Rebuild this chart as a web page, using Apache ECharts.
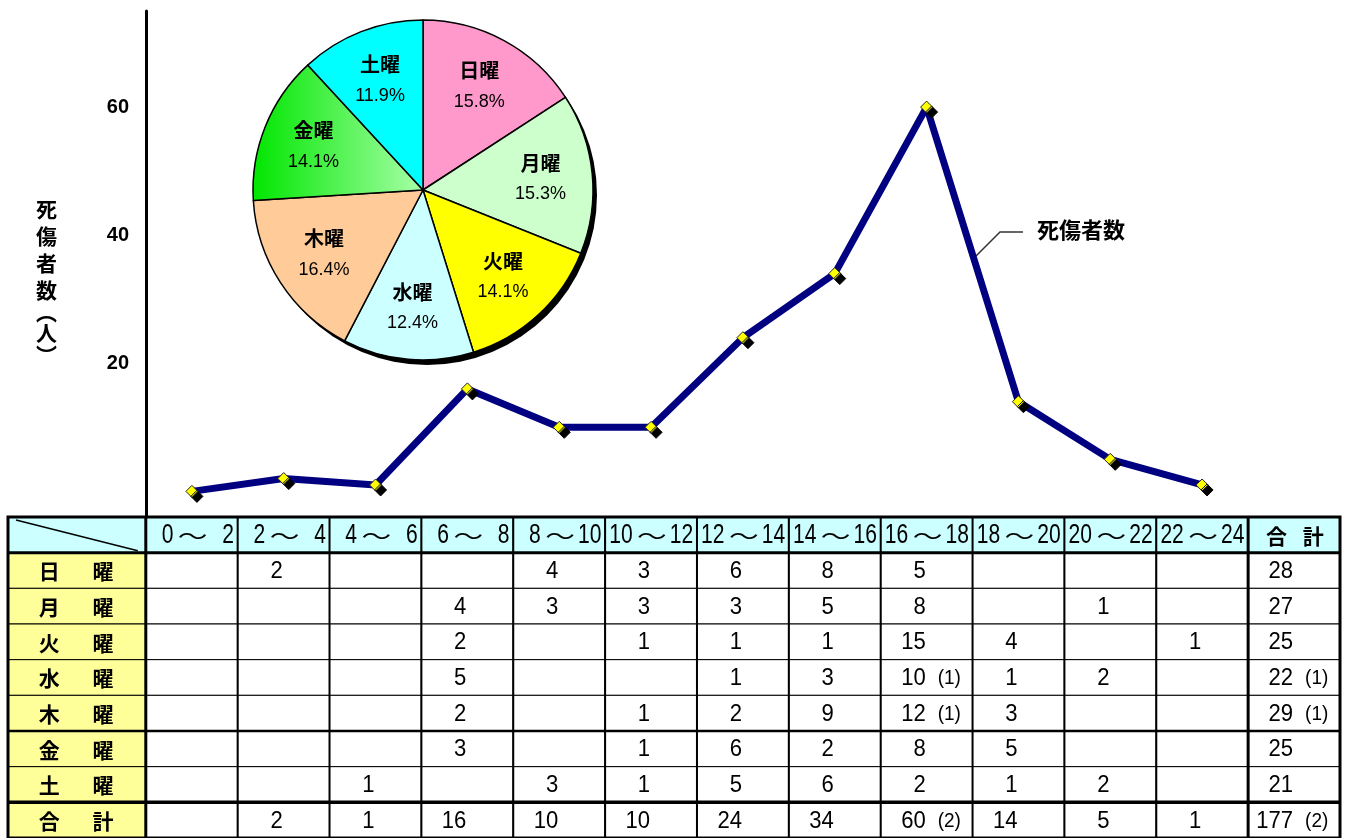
<!DOCTYPE html>
<html>
<head>
<meta charset="utf-8">
<script src="https://cdn.jsdelivr.net/npm/echarts@6/dist/echarts.min.js"></script>
<style>
html,body{margin:0;padding:0;background:#fff;}
#chart{width:1348px;height:838px;}
</style>
</head>
<body>
<div id="chart"></div>
<script>
// ---------------- DATA ----------------
const slotLabels = ['0～2','2～4','4～6','6～8','8～10','10～12','12～14','14～16','16～18','18～20','20～22','22～24'];
const dayNames   = ['日曜','月曜','火曜','水曜','木曜','金曜','土曜'];
const totalLabel = '合計';
// casualties by day (rows) and 2-hour slot (columns); null = blank cell
const sunCounts = [null, 2, null, null, 4, 3, 6, 8, 5, null, null, null];
const monCounts = [null, null, null, 4, 3, 3, 3, 5, 8, null, 1, null];
const tueCounts = [null, null, null, 2, null, 1, 1, 1, 15, 4, null, 1];
const wedCounts = [null, null, null, 5, null, null, 1, 3, 10, 1, 2, null];
const thuCounts = [null, null, null, 2, null, 1, 2, 9, 12, 3, null, null];
const friCounts = [null, null, null, 3, null, 1, 6, 2, 8, 5, null, null];
const satCounts = [null, null, 1, null, 3, 1, 5, 6, 2, 1, 2, null];
// fatalities shown in parentheses
const wedFatal  = [null, null, null, null, null, null, null, null, 1, null, null, null];
const thuFatal  = [null, null, null, null, null, null, null, null, 1, null, null, null];
const yTickValues = [20, 40, 60];
const seriesName = '死傷者数';
const yAxisName  = '死傷者数(人)';

// ---------------- STYLES ----------------
const dayColors = ['#FF99CC', '#CCFFCC', '#FFFF00', '#CCFFFF', '#FFCC99', null, '#00FFFF'];
const FONT_CJK = '"Noto Sans CJK JP", sans-serif';
const FONT_NUM = '"Liberation Sans", "Noto Sans CJK JP", sans-serif';

// ---------------- DERIVED ----------------
const dayRows   = [sunCounts, monCounts, tueCounts, wedCounts, thuCounts, friCounts, satCounts];
const fatalRows = [null, null, null, wedFatal, thuFatal, null, null];
const NCOL = slotLabels.length;
const sum = a => a.reduce((s, v) => s + (v || 0), 0);
const slotTotals = slotLabels.map((_, i) => sum(dayRows.map(r => r[i])));
const slotFatal  = slotLabels.map((_, i) => sum(fatalRows.map(r => r ? r[i] : 0)));
const dayTotals  = dayRows.map(sum);
const dayFatal   = fatalRows.map(r => r ? sum(r) : 0);
const grandTotal = sum(dayTotals);
const grandFatal = sum(dayFatal);

// ---------------- TABLE CELLS ----------------
const LABEL_W = 1.5;
function colSpan(c) { return c === 0 ? [0, LABEL_W] : [LABEL_W + c - 1, LABEL_W + c]; }
const tableCells = [];
tableCells.push({ value: [0, 0], kind: 'corner', fill: '#CCFFFF' });
slotLabels.forEach((s, i) => tableCells.push({ value: [i + 1, 0], kind: 'slot', text: s, fill: '#CCFFFF' }));
tableCells.push({ value: [NCOL + 1, 0], kind: 'label', text: totalLabel, fill: '#CCFFFF', fr: [0.31, 0.71] });
const numText = v => (v ? String(v) : '');
const subText = v => (v ? '(' + v + ')' : '');
dayRows.forEach((row, d) => {
  const r = d + 1;
  tableCells.push({ value: [0, r], kind: 'label', text: dayNames[d], fill: '#FFFF99', fr: [0.30, 0.69] });
  row.forEach((v, i) => tableCells.push({
    value: [i + 1, r], kind: 'num', fill: '#FFFFFF',
    text: numText(v), sub: subText(fatalRows[d] ? fatalRows[d][i] : 0)
  }));
  tableCells.push({ value: [NCOL + 1, r], kind: 'num', fill: '#FFFFFF', text: numText(dayTotals[d]), sub: subText(dayFatal[d]) });
});
tableCells.push({ value: [0, 8], kind: 'label', text: totalLabel, fill: '#FFFF99', fr: [0.30, 0.69] });
slotTotals.forEach((v, i) => tableCells.push({ value: [i + 1, 8], kind: 'num', fill: '#FFFFFF', text: numText(v), sub: subText(slotFatal[i]) }));
tableCells.push({ value: [NCOL + 1, 8], kind: 'num', fill: '#FFFFFF', text: numText(grandTotal), sub: subText(grandFatal) });
tableCells.push({ value: [0, 0], kind: 'frame' });

function renderFrame(api) {
  const xAt = u => api.coord([u, 0])[0];
  const yAt = r => api.coord([0, r])[1];
  const xl = xAt(0), xr = xAt(LABEL_W + NCOL + 1), yt = yAt(0), yb = yAt(9);
  const ch = [];
  const ln = (x1, y1, x2, y2, w) => ch.push({ type: 'line', shape: { x1, y1, x2, y2 }, style: { stroke: '#000', lineWidth: w } });
  for (let c = 1; c < NCOL; c++) ln(xAt(LABEL_W + c), yt, xAt(LABEL_W + c), yb, 2);
  ln(xl, yAt(1), xr, yAt(1), 3);
  ln(xl, yAt(6), xr, yAt(6), 2.5);
  ln(xl, yAt(8), xr, yAt(8), 3.5);
  ln(xAt(LABEL_W), yt, xAt(LABEL_W), yb, 3);
  ln(xAt(LABEL_W + NCOL), yt, xAt(LABEL_W + NCOL), yb, 3);
  ch.push({ type: 'rect', shape: { x: xl, y: yt, width: xr - xl, height: yb - yt }, style: { fill: null, stroke: '#000', lineWidth: 3 } });
  return { type: 'group', children: ch };
}

function renderTable(params, api) {
  const cell = tableCells[params.dataIndex];
  if (cell.kind === 'frame') return renderFrame(api);
  const c = cell.value[0], r = cell.value[1];
  const span = colSpan(c);
  const p0 = api.coord([span[0], r]), p1 = api.coord([span[1], r + 1]);
  const x = p0[0], y = p0[1], w = p1[0] - p0[0], h = p1[1] - p0[1];
  const cy = y + h / 2 + 1;
  const ch = [{ type: 'rect', shape: { x, y, width: w, height: h }, style: { fill: cell.fill, stroke: '#000', lineWidth: 1 } }];
  const txt = (tx, text, font, align, sx) => ch.push({
    type: 'text', x: tx, y: cy, scaleX: sx || 1,
    style: { text, font, fill: '#000', align, verticalAlign: 'middle' }
  });
  if (cell.kind === 'corner') {
    ch.push({ type: 'line', shape: { x1: x + 8, y1: y + 3, x2: x + w - 8, y2: y + h - 2 }, style: { stroke: '#000', lineWidth: 1.5 } });
  } else if (cell.kind === 'slot') {
    const parts = cell.text.split('～');
    txt(x + 0.30 * w, parts[0], '27px ' + FONT_NUM, 'right', 0.78);
    txt(x + 0.51 * w, '～', '22px ' + FONT_CJK, 'center', 1.35);
    txt(x + 0.96 * w, parts[1], '27px ' + FONT_NUM, 'right', 0.78);
  } else if (cell.kind === 'label') {
    const chars = Array.from(cell.text);
    txt(x + cell.fr[0] * w, chars[0], 'bold 21px ' + FONT_CJK, 'center');
    txt(x + cell.fr[1] * w, chars[chars.length - 1], 'bold 21px ' + FONT_CJK, 'center');
  } else if (cell.kind === 'num') {
    if (cell.text) txt(x + 0.49 * w, cell.text, '24px ' + FONT_NUM, 'right', 0.92);
    if (cell.sub) txt(x + 0.62 * w, cell.sub, '20px ' + FONT_NUM, 'left', 0.95);
  }
  return { type: 'group', children: ch };
}

// ---------------- PIE DATA ----------------
const pieData = dayNames.map((n, i) => ({
  name: n, value: dayTotals[i],
  itemStyle: {
    color: dayColors[i] || new echarts.graphic.LinearGradient(0, 0, 1, 0, [
      { offset: 0, color: '#00E600' }, { offset: 1, color: '#A8FFA8' }
    ])
  }
}));
const pieCenter = [423, 190];

// ---------------- Y AXIS NAME (vertical) ----------------
const axisNameRich = Array.from(yAxisName).map(ch =>
  ch === '(' ? '{b|︵}' : ch === ')' ? '{b|︶}' : '{a|' + ch + '}').join('\n');

// ---------------- CHART ----------------
const chart = echarts.init(document.getElementById('chart'), null, { renderer: 'canvas' });
chart.setOption({
  animation: false,
  backgroundColor: '#fff',
  textStyle: { fontFamily: FONT_CJK },
  grid: [
    { left: 146, right: 100, top: 11, bottom: 321, containLabel: false },
    { left: 8, right: 8, top: 517, height: 326, containLabel: false }
  ],
  xAxis: [
    { type: 'category', gridIndex: 0, data: slotLabels, boundaryGap: true, show: false },
    { type: 'value', gridIndex: 1, min: 0, max: LABEL_W + NCOL + 1, show: false }
  ],
  yAxis: [
    {
      type: 'value', gridIndex: 0, min: -4, max: 75,
      axisLine: { show: true, lineStyle: { color: '#000', width: 3 } },
      axisTick: { show: false },
      splitLine: { show: false },
      axisLabel: {
        customValues: yTickValues, margin: 17,
        color: '#000', fontSize: 20, fontWeight: 'bold', fontFamily: FONT_NUM
      }
    },
    { type: 'value', gridIndex: 1, min: 0, max: 9, inverse: true, show: false }
  ],
  series: [
    {
      type: 'pie', name: 'shadow', center: [pieCenter[0] + 4, pieCenter[1] + 5], radius: 170,
      silent: true, z: 1, label: { show: false }, labelLine: { show: false },
      emphasis: { disabled: true },
      data: [{ value: 1, itemStyle: { color: '#000' } }]
    },
    {
      type: 'pie', name: '曜日別', center: pieCenter, radius: 170, startAngle: 90, clockwise: true,
      z: 2, silent: true, emphasis: { disabled: true },
      itemStyle: { borderColor: '#000', borderWidth: 1.5 },
      label: { show: false }, labelLine: { show: false },
      data: pieData
    },
    {
      type: 'pie', name: 'labels', center: pieCenter, radius: 230, startAngle: 90, clockwise: true,
      z: 3, silent: true, emphasis: { disabled: true }, percentPrecision: 1,
      itemStyle: { color: 'rgba(0,0,0,0)', borderWidth: 0 },
      labelLine: { show: false },
      label: {
        show: true, position: 'inside', color: '#000',
        formatter: '{n|{b}}\n{p|{d}%}',
        rich: {
          n: { fontSize: 20, fontWeight: 'bold', fontFamily: FONT_CJK, color: '#000', lineHeight: 31 },
          p: { fontSize: 18, fontFamily: FONT_NUM, color: '#000', lineHeight: 31 }
        }
      },
      data: dayNames.map((n, i) => ({ name: n, value: dayTotals[i] }))
    },
    {
      type: 'line', name: seriesName, xAxisIndex: 0, yAxisIndex: 0, z: 4,
      data: slotTotals,
      lineStyle: { color: '#000080', width: 7 },
      symbol: 'diamond', symbolSize: 12,
      itemStyle: { color: '#FFFF00', borderColor: '#222', borderWidth: 1, shadowColor: '#000', shadowOffsetX: 5, shadowOffsetY: 5, shadowBlur: 0 },
      emphasis: { disabled: true }
    },
    {
      type: 'custom', name: 'table', coordinateSystem: 'cartesian2d', xAxisIndex: 1, yAxisIndex: 1,
      silent: true, clip: false, z: 5,
      encode: { x: 0, y: 1 },
      renderItem: renderTable,
      data: tableCells.map(c => c.value)
    }
  ],
  graphic: [
    {
      type: 'text', left: 36, top: 199,
      style: {
        text: axisNameRich, fill: '#000', align: 'center',
        rich: {
          a: { font: 'bold 21px ' + FONT_CJK, lineHeight: 27, fill: '#000', align: 'center' },
          b: { font: 'bold 21px ' + FONT_CJK, lineHeight: 16, fill: '#000', align: 'center' }
        }
      }
    },
    {
      type: 'polyline', shape: { points: [[976, 256], [1000, 232], [1023, 232]] },
      style: { stroke: '#333', lineWidth: 1.5, fill: null }
    },
    {
      type: 'text', left: 1037, top: 219,
      style: { text: seriesName, font: 'bold 22px ' + FONT_CJK, fill: '#000' }
    }
  ]
});
</script>
</body>
</html>
